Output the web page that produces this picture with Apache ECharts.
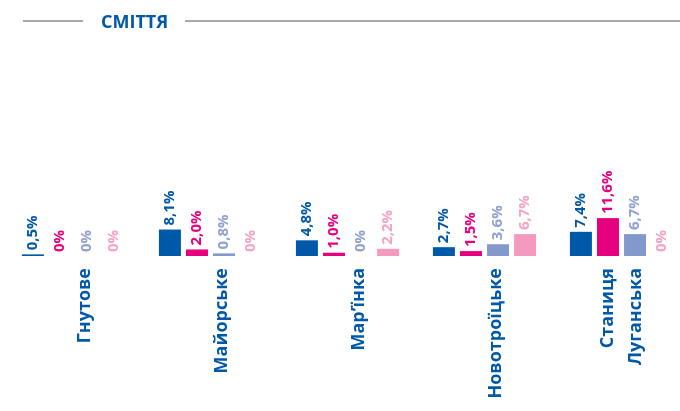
<!DOCTYPE html>
<html>
<head>
<meta charset="utf-8">
<script src="https://cdn.jsdelivr.net/npm/echarts@6/dist/echarts.min.js"></script>
<style>
  html, body { margin: 0; padding: 0; background: #fff; }
  #chart { width: 680px; height: 411px; }
</style>
</head>
<body>
<div id="chart"></div>
<script>
// data
const categories = ['Гнутове', 'Майорське', 'Мар’їнка', 'Новотроїцьке', 'Станиця\nЛуганська'];
const seriesA = [0.5, 8.1, 4.8, 2.7, 7.4];
const seriesB = [0, 2.0, 1.0, 1.5, 11.6];
const seriesC = [0, 0.8, 0, 3.6, 6.7];
const seriesD = [0, 0, 2.2, 6.7, 0];

const barColors = ['#0058a9', '#e6007e', '#8399cc', '#f49ac1'];
const labelColors = ['#0058a9', '#e6007e', '#8fa1d2', '#f5a3c7'];
const blue = '#0058a9';
const font = '"Open Sans", "Noto Sans", sans-serif';
const narrow = '"Liberation Sans Narrow", "Open Sans", sans-serif';

function pct(v) {
    return v === 0 ? '0%' : v.toFixed(1).replace('.', ',') + '%';
}

function makeSeries(data, i) {
    return {
        type: 'bar',
        data: data,
        barWidth: 22,
        barGap: '23%',
        itemStyle: { color: barColors[i] },
        label: {
            show: true,
            position: 'top',
            rotate: 90,
            align: 'left',
            verticalAlign: 'middle',
            distance: 4,
            color: labelColors[i],
            fontFamily: narrow,
            fontWeight: 'bold',
            fontSize: 15,
            formatter: (p) => pct(p.value)
        }
    };
}

// two-line label stays centred, the others sit a bit right of the group
const axisCats = categories.map((c) =>
    c.indexOf('\n') >= 0
        ? { value: c, textStyle: { verticalAlign: 'middle', lineHeight: 28 } }
        : c
);

const chart = echarts.init(document.getElementById('chart'), null, { renderer: 'canvas' });

chart.setOption({
    animation: false,
    title: {
        text: 'СМІТТЯ',
        left: 96,
        top: 9,
        textStyle: { color: blue, fontFamily: font, fontWeight: 'bold', fontSize: 18 }
    },
    graphic: [
        { type: 'line', shape: { x1: 23, y1: 21, x2: 83, y2: 21 }, style: { stroke: '#a9aaad', lineWidth: 2 } },
        { type: 'line', shape: { x1: 185, y1: 21, x2: 680, y2: 21 }, style: { stroke: '#a9aaad', lineWidth: 2 } }
    ],
    grid: { left: 5, width: 685, top: 60, bottom: 155, outerBoundsMode: 'none' },
    xAxis: {
        type: 'category',
        data: axisCats,
        axisLine: { show: false },
        axisTick: { show: false },
        axisLabel: {
            interval: 0,
            rotate: 90,
            margin: 12,
            color: blue,
            fontFamily: font,
            fontWeight: 'bold',
            fontSize: 18,
            lineHeight: 22,
            verticalAlign: 'top'
        }
    },
    yAxis: {
        type: 'value',
        min: 0,
        max: 60,
        show: false,
        splitLine: { show: false }
    },
    series: [seriesA, seriesB, seriesC, seriesD].map(makeSeries)
});
</script>
</body>
</html>
